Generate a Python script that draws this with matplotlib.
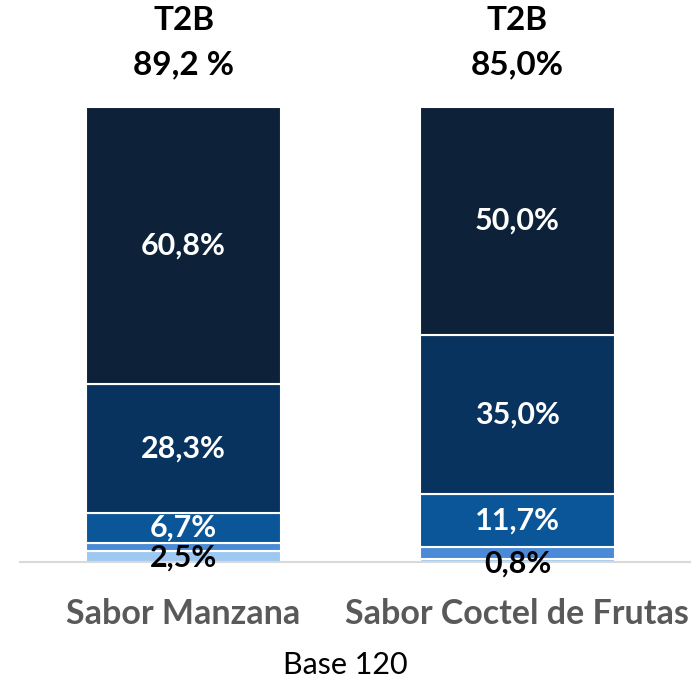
import matplotlib.pyplot as plt
import numpy as np

plt.rcParams['font.family'] = ['Lato', 'DejaVu Sans']

categories = ["Sabor Manzana", "Sabor Coctel de Frutas"]
t2b_labels = ["89,2 %", "85,0%"]
# stacked from bottom to top
seg1 = [2.5, 0.8]
seg2 = [1.7, 2.5]
seg3 = [6.7, 11.7]
seg4 = [28.3, 35.0]
seg5 = [60.8, 50.0]
segments = [seg1, seg2, seg3, seg4, seg5]
colors = ["#9DC8F2", "#4A8AD6", "#0B5699", "#09335F", "#0D2139"]
# which segments get a label, and colour of label
show = [[True, True], [False, False], [True, True], [True, True], [True, True]]
label_colors = ["black", "black", "white", "white", "white"]

fig = plt.figure(figsize=(6.91, 6.84), dpi=100)
ax = fig.add_axes([0.029, 0.178, 0.971, 0.6656])

x = np.arange(len(categories))
bottom = np.zeros(len(categories))
low_y = [1.1, -0.2]
for i, seg in enumerate(segments):
    vals = np.array(seg)
    ax.bar(x, vals, 0.584, bottom=bottom, color=colors[i], edgecolor="white", linewidth=1.5)
    for j in range(len(x)):
        if show[i][j]:
            y = bottom[j] + vals[j] / 2
            if i == 0:
                y = low_y[j]
            ax.text(x[j], y, f"{vals[j]:.1f}%".replace(".", ","), ha="center", va="center",
                    color=label_colors[i], fontsize=22, fontweight="bold", clip_on=False, zorder=5)
    bottom += vals

for j in range(len(x)):
    ax.text(x[j], 119.1, "T2B", ha="center", va="center", fontsize=24, fontweight="bold", clip_on=False)
    ax.text(x[j], 109.2, t2b_labels[j], ha="center", va="center", fontsize=24, fontweight="bold", clip_on=False)

ax.set_xlim(-0.49, 1.52)
ax.set_ylim(0, 100)
for s in ["top", "right", "left"]:
    ax.spines[s].set_visible(False)
ax.spines["bottom"].set_color("#D9D9D9")
ax.spines["bottom"].set_linewidth(1.5)
ax.set_yticks([])
ax.set_xticks(x)
ax.set_xticklabels(categories, fontsize=24.5, fontweight="bold", color="#595959")
ax.tick_params(axis="x", length=0, pad=26)

fig.text(0.5, 1 - 665 / 684, "Base 120", ha="center", va="center", fontsize=22)

fig.savefig("out.png", dpi=100)
